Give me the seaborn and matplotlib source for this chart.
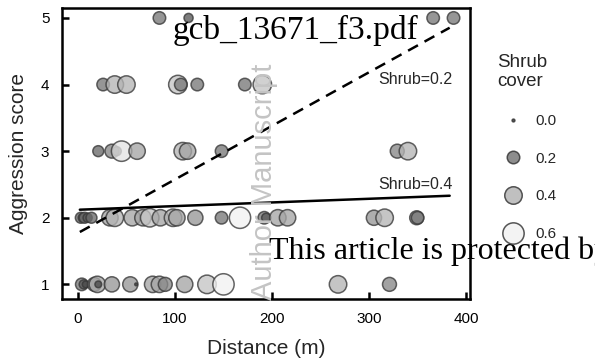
import numpy as np
import pandas as pd
import seaborn as sns
import matplotlib
matplotlib.use("Agg")
import matplotlib.pyplot as plt
from matplotlib.colors import LinearSegmentedColormap, Normalize
from matplotlib.lines import Line2D

# ---- data ----
score5_dist = [84, 114, 366, 387]
score5_cover = [0.2, 0.1, 0.2, 0.2]

score4_dist = [26, 38, 50, 103, 106, 123, 172, 190]
score4_cover = [0.2, 0.4, 0.4, 0.45, 0.2, 0.2, 0.2, 0.45]

score3_dist = [21, 35, 40, 45, 61, 108, 113, 148, 329, 340]
score3_cover = [0.15, 0.25, 0.1, 0.55, 0.35, 0.4, 0.35, 0.2, 0.25, 0.4]

score2_dist = [3, 5, 7, 10, 14, 33, 38, 56, 67, 74, 85, 98, 102, 121, 148, 167,
               192, 194, 206, 216, 305, 316, 349, 350]
score2_cover = [0.15, 0.1, 0.15, 0.1, 0.15, 0.35, 0.4, 0.35, 0.35, 0.45, 0.35, 0.4,
                0.35, 0.3, 0.2, 0.6, 0.2, 0.1, 0.35, 0.35, 0.3, 0.4, 0.25, 0.2]

score1_dist = [4, 6, 8, 17, 20, 21, 35, 54, 60, 77, 84, 90, 110, 133, 150, 268, 321]
score1_cover = [0.2, 0.1, 0.05, 0.25, 0.35, 0.05, 0.3, 0.3, 0.0, 0.35, 0.35, 0.25,
                0.35, 0.45, 0.6, 0.4, 0.25]

# fitted lines (intercept, slope) at two shrub cover levels
fit_labels = ["Shrub=0.2", "Shrub=0.4"]
fit_intercepts = [1.77, 2.12]
fit_slopes = [0.00805, 0.00055]
fit_range = [2, 383]

legend_levels = [0.0, 0.2, 0.4, 0.6]
x_ticks = [0, 100, 200, 300, 400]
y_ticks = [1, 2, 3, 4, 5]

rows = []
for sc, ds, cs in [(5, score5_dist, score5_cover), (4, score4_dist, score4_cover),
                   (3, score3_dist, score3_cover), (2, score2_dist, score2_cover),
                   (1, score1_dist, score1_cover)]:
    for d, c in zip(ds, cs):
        rows.append({"Distance": d, "Score": sc, "Cover": c})
df = pd.DataFrame(rows)

# ---- style ----
sns.set_theme(style="white")
plt.rcParams["font.family"] = ["Liberation Sans", "DejaVu Sans"]

cmap = LinearSegmentedColormap.from_list("g", ["#3c3c3c", "#f2f2f2"])
hnorm = Normalize(0, 0.6)
size_rng = (4, 235)

fig = plt.figure(figsize=(5.95, 3.62), dpi=100)
ax = fig.add_axes([0.104, 0.174, 0.686, 0.804])

sns.scatterplot(data=df, x="Distance", y="Score", hue="Cover", size="Cover",
                palette=cmap, hue_norm=hnorm, sizes=size_rng, size_norm=hnorm,
                alpha=0.78, edgecolor="#383838", linewidth=1.1, legend=False, ax=ax)

xs = np.array(fit_range, dtype=float)
line_df = pd.DataFrame({
    "x": np.concatenate([xs, xs]),
    "y": np.concatenate([fit_intercepts[0] + fit_slopes[0] * xs,
                         fit_intercepts[1] + fit_slopes[1] * xs]),
    "fit": [fit_labels[0]] * 2 + [fit_labels[1]] * 2,
})
sns.lineplot(data=line_df, x="x", y="y", style="fit", dashes={fit_labels[0]: (4.5, 3), fit_labels[1]: ""},
             color="black", linewidth=1.8, legend=False, ax=ax)

ax.text(386, 4.07, fit_labels[0], ha="right", va="center", fontsize=11.5)
ax.text(386, 2.5, fit_labels[1], ha="right", va="center", fontsize=11.5)

ax.set_xlim(-16.5, 404)
ax.set_ylim(0.78, 5.15)
ax.set_xticks(x_ticks)
ax.set_yticks(y_ticks)
ax.tick_params(direction="in", length=5, width=1.8, labelsize=11, colors="black", pad=9,
               bottom=True, left=True)
for s in ax.spines.values():
    s.set_color("black")
    s.set_linewidth(1.8)
ax.set_xlabel("Distance (m)", fontsize=15, labelpad=10)
ax.set_ylabel("Aggression score", fontsize=15, labelpad=9)

# legend
handles = []
for lv in legend_levels:
    s = size_rng[0] + (size_rng[1] - size_rng[0]) * hnorm(lv)
    handles.append(Line2D([], [], ls="", marker="o", markersize=np.sqrt(s),
                          markerfacecolor=cmap(hnorm(lv)), markeredgecolor="#383838",
                          markeredgewidth=1.1, alpha=0.85))
leg = fig.legend(handles, [f"{v:.1f}" for v in legend_levels], title="Shrub\ncover",
                 loc="upper left", bbox_to_anchor=(0.813, 0.89), frameon=False,
                 fontsize=11, title_fontsize=13.5, labelspacing=1.55, handletextpad=0.5,
                 alignment="left")

# overlays from the original page
fig.text(0.29, 0.915, "gcb_13671_f3.pdf", family=["Liberation Serif", "DejaVu Serif"],
         fontsize=24, color="black", ha="left", va="center")
fig.text(0.443, 0.497, "Author Manuscript", rotation=90, fontsize=21, color="#c4c4c4",
         ha="center", va="center")
fig.text(0.452, 0.305, "This article is protected by copyright. All rights reserved",
         family=["Liberation Serif", "DejaVu Serif"], fontsize=23, color="black",
         ha="left", va="center")

fig.savefig("out.png", dpi=100)
